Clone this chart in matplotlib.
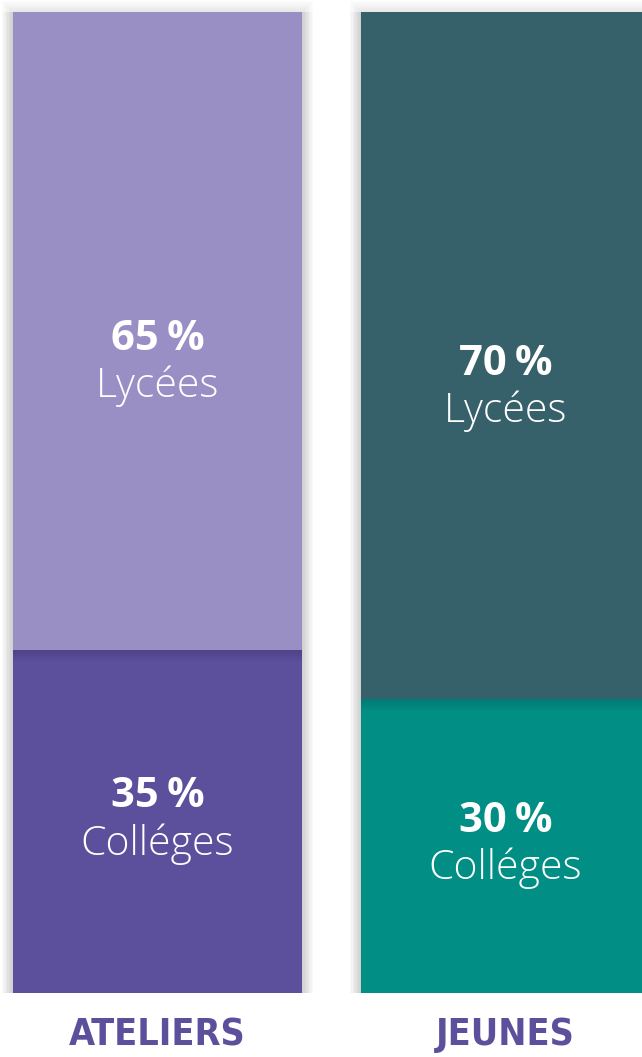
import matplotlib.pyplot as plt
import numpy as np

# Data
categories = ['ATELIERS', 'JEUNES']
lycees = [65, 70]
colleges = [35, 30]
lycee_colors = ['#9a8fc4', '#36606a']
college_colors = ['#5c4f9b', '#008e85']
label_color = '#5c4f9b'

fig = plt.figure(figsize=(6.42, 10.57), dpi=100)
ax = fig.add_axes([0, 0, 1, 1])
x = np.arange(len(categories))
width = 0.83
totals = [l + c for l, c in zip(lycees, colleges)]

# soft shadow behind each bar
for k in range(1, 9):
    grow = k * 1.4 / 348
    ax.bar(x, totals, width=width + 2 * grow, bottom=-0.01, color='black',
           alpha=0.012, linewidth=0, zorder=1)
    ax.bar(x, [t + k * 0.14 for t in totals], width=width + 2 * grow,
           color='black', alpha=0.01, linewidth=0, zorder=1)

ax.bar(x, colleges, width=width, color=college_colors, linewidth=0, zorder=2)
# shadow of the top block onto the bottom block
for k in range(1, 7):
    ax.bar(x, [k * 0.2] * 2, bottom=[c - k * 0.2 for c in colleges], width=width,
           color='black', alpha=0.015, linewidth=0, zorder=3)
ax.bar(x, lycees, bottom=colleges, width=width, color=lycee_colors, linewidth=0, zorder=4)

font = ['Open Sans', 'DejaVu Sans']
for i in range(len(categories)):
    ytop = colleges[i] + lycees[i] / 2
    ax.annotate(f'{lycees[i]}\u202f%', (x[i], ytop), xytext=(0, -14), textcoords='offset points',
                ha='center', va='baseline', color='white', fontsize=30, fontweight='bold',
                family=font, zorder=5)
    ax.annotate('Lycées', (x[i], ytop), xytext=(0, -48), textcoords='offset points',
                ha='center', va='baseline', color='white', fontsize=29.5, fontweight='light',
                family=font, zorder=5)
    ybot = colleges[i] / 2
    ax.annotate(f'{colleges[i]}\u202f%', (x[i], ybot), xytext=(0, 10), textcoords='offset points',
                ha='center', va='baseline', color='white', fontsize=30, fontweight='bold',
                family=font, zorder=5)
    ax.annotate('Colléges', (x[i], ybot), xytext=(0, -24), textcoords='offset points',
                ha='center', va='baseline', color='white', fontsize=29.5, fontweight='light',
                family=font, zorder=5)
    ax.text(x[i], -4.3, categories[i], ha='center', va='center', color=label_color,
            fontsize=27, fontweight='bold', fontstretch='condensed', family='DejaVu Sans')

px_per_unit = 348
ax.set_xlim(-157.5 / px_per_unit, -157.5 / px_per_unit + 642 / px_per_unit)
ax.set_ylim(-64 / 9.81, 100 + 12 / 9.81)
ax.axis('off')

fig.savefig('out.png', dpi=100)
